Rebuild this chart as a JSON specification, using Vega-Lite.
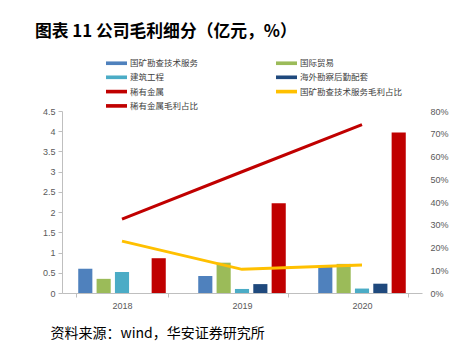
{
  "$schema": "https://vega.github.io/schema/vega-lite/v6.json",
  "width": 360,
  "height": 182,
  "autosize": {"type": "none"},
  "padding": {"left": 62, "top": 111, "right": 44, "bottom": 63},
  "background": "white",
  "title": {
    "text": "图表 11 公司毛利细分（亿元，%）",
    "anchor": "start",
    "frame": "group",
    "dx": -27,
    "offset": 15,
    "font": "Noto Sans CJK SC",
    "fontSize": 16.8,
    "fontWeight": "bold",
    "color": "#000000"
  },
  "config": {
    "view": {"stroke": null},
    "axis": {
      "grid": false,
      "labelFont": "Liberation Sans",
      "labelFontSize": 9,
      "labelColor": "#595959",
      "domainColor": "#BFBFBF",
      "tickColor": "#BFBFBF",
      "tickSize": 4
    }
  },
  "datasets": {
    "bars": [
      {"year": "2018", "series": "国矿勘查技术服务", "value": 0.6},
      {"year": "2018", "series": "国际贸易", "value": 0.35},
      {"year": "2018", "series": "建筑工程", "value": 0.52},
      {"year": "2018", "series": "稀有金属", "value": 0.86},
      {"year": "2019", "series": "国矿勘查技术服务", "value": 0.42},
      {"year": "2019", "series": "国际贸易", "value": 0.75},
      {"year": "2019", "series": "建筑工程", "value": 0.1},
      {"year": "2019", "series": "海外勘察后勤配套", "value": 0.22},
      {"year": "2019", "series": "稀有金属", "value": 2.22},
      {"year": "2020", "series": "国矿勘查技术服务", "value": 0.65},
      {"year": "2020", "series": "国际贸易", "value": 0.72},
      {"year": "2020", "series": "建筑工程", "value": 0.11},
      {"year": "2020", "series": "海外勘察后勤配套", "value": 0.23},
      {"year": "2020", "series": "稀有金属", "value": 3.97}
    ],
    "lines": [
      {"year": "2018", "series": "国矿勘查技术服务毛利占比", "pct": 22.8},
      {"year": "2019", "series": "国矿勘查技术服务毛利占比", "pct": 10.4},
      {"year": "2020", "series": "国矿勘查技术服务毛利占比", "pct": 12.3},
      {"year": "2018", "series": "稀有金属毛利占比", "pct": 32.5},
      {"year": "2019", "series": "稀有金属毛利占比", "pct": 53.3},
      {"year": "2020", "series": "稀有金属毛利占比", "pct": 74.0}
    ]
  },
  "encoding": {
    "x": {
      "field": "year",
      "type": "nominal",
      "scale": {"paddingInner": 0.24, "paddingOuter": 0.12},
      "axis": {
        "labelAngle": 0,
        "tickBand": "extent",
        "labelPadding": 4,
        "title": "资料来源：wind，华安证券研究所",
        "titleFont": "Noto Sans CJK SC",
        "titleFontSize": 14,
        "titleFontWeight": "normal",
        "titleColor": "#000000",
        "titleAnchor": "start",
        "titleAlign": "left",
        "titleBaseline": "middle",
        "titleX": -12,
        "titleY": 40
      }
    }
  },
  "layer": [
    {
      "data": {"name": "bars"},
      "mark": {"type": "bar"},
      "encoding": {
        "xOffset": {
          "field": "series",
          "type": "nominal",
          "scale": {
            "domain": ["国矿勘查技术服务", "国际贸易", "建筑工程", "海外勘察后勤配套", "稀有金属"],
            "paddingInner": 0.23,
            "paddingOuter": 0.1
          }
        },
        "y": {
          "field": "value",
          "type": "quantitative",
          "scale": {"domain": [0, 4.5], "nice": false},
          "axis": {
            "orient": "left",
            "title": null,
            "values": [0, 0.5, 1, 1.5, 2, 2.5, 3, 3.5, 4, 4.5],
            "format": "~g",
            "labelPadding": 3
          }
        },
        "color": {
          "field": "series",
          "type": "nominal",
          "scale": {
            "domain": ["国矿勘查技术服务", "国际贸易", "建筑工程", "海外勘察后勤配套", "稀有金属", "国矿勘查技术服务毛利占比", "稀有金属毛利占比"],
            "range": ["#4F81BD", "#9BBB59", "#4BACC6", "#1F497D", "#C00000", "#FFC000", "#C00000"]
          },
          "legend": {
            "orient": "none",
            "legendX": 44,
            "legendY": -55,
            "title": null,
            "direction": "horizontal",
            "columns": 2,
            "columnPadding": 77,
            "rowPadding": 2.3,
            "symbolType": "M-1,-0.26H2V0.26H-1Z",
            "symbolSize": 196,
            "labelFont": "Noto Sans CJK SC",
            "labelFontSize": 8.5,
            "labelColor": "#404040",
            "labelOffset": 10,
            "encode": {
              "symbols": {
                "update": {
                  "fill": {"scale": "color", "field": "value"},
                  "stroke": {"value": "transparent"},
                  "strokeWidth": {"value": 0},
                  "opacity": {"value": 1}
                }
              }
            }
          }
        }
      }
    },
    {
      "data": {"name": "lines"},
      "mark": {"type": "line", "strokeWidth": 3},
      "encoding": {
        "y": {
          "field": "pct",
          "type": "quantitative",
          "scale": {"domain": [0, 80], "nice": false},
          "axis": {
            "orient": "right",
            "title": null,
            "values": [0, 10, 20, 30, 40, 50, 60, 70, 80],
            "labelExpr": "datum.value + '%'",
            "domain": false,
            "ticks": false,
            "labelPadding": 8
          }
        },
        "color": {"field": "series", "type": "nominal"}
      }
    }
  ],
  "resolve": {"scale": {"y": "independent"}, "axis": {"y": "independent"}}
}
